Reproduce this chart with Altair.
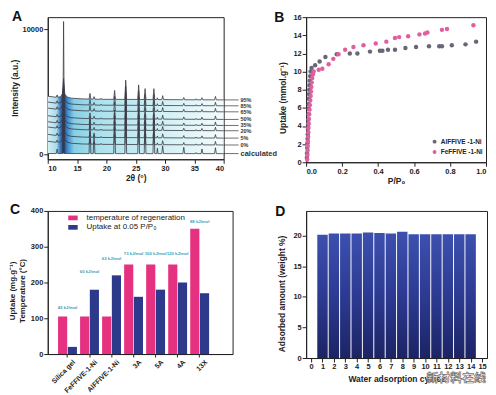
import altair as alt
import pandas as pd

FONT = "Liberation Sans"
INK = "#222222"

# ---------------- Panel A : PXRD patterns ----------------
exp_two_theta = [10.0, 11.0, 11.45, 11.6, 11.75, 12.2, 12.5, 12.7, 12.9, 13.3, 14.0, 16.0,
                 17.05, 17.2, 17.35, 17.75, 17.9, 18.05, 19.0, 19.1, 19.2,
                 21.25, 21.4, 21.55, 23.15, 23.3, 23.45, 25.35, 25.5, 25.65,
                 26.45, 26.6, 26.75, 27.95, 28.1, 28.25, 28.6, 28.7, 28.8,
                 29.45, 29.6, 29.75, 33.05, 33.2, 33.35, 35.2, 35.3, 35.4,
                 36.15, 36.3, 36.45, 38.45, 38.6, 38.75, 40.0]
exp_profile = [300, 240, 215, 400, 210, 260, 500, 1700, 480, 230, 140, 80,
               70, 520, 70, 60, 260, 60, 50, 130, 50,
               45, 760, 45, 40, 1580, 40, 35, 1200, 35,
               30, 900, 30, 25, 900, 25, 25, 170, 25,
               25, 340, 25, 15, 200, 15, 10, 90, 10,
               10, 180, 10, 5, 280, 5, 0]
humidity_labels = ["95%", "85%", "65%", "50%", "35%", "20%", "5%", "0%"]
pattern_offsets = [4340, 3870, 3390, 2780, 2300, 1880, 1290, 740]
calc_two_theta = [10.0, 11.45, 11.6, 11.75, 12.55, 12.7, 12.85,
                  17.05, 17.2, 17.35, 17.75, 17.9, 18.05,
                  21.25, 21.4, 21.55, 23.15, 23.3, 23.45,
                  25.35, 25.5, 25.65, 26.45, 26.6, 26.75,
                  27.95, 28.1, 28.25, 28.6, 28.7, 28.8,
                  29.45, 29.6, 29.75, 33.05, 33.2, 33.35,
                  35.2, 35.3, 35.4, 36.15, 36.3, 36.45,
                  38.45, 38.6, 38.75, 40.0]
calc_intensity = [60, 55, 420, 55, 60, 10600, 60,
                  50, 3000, 50, 50, 1700, 50,
                  50, 3300, 50, 50, 3900, 50,
                  50, 3500, 50, 50, 2600, 50,
                  50, 2900, 50, 50, 480, 50,
                  50, 680, 50, 50, 560, 50,
                  50, 140, 50, 50, 420, 50,
                  50, 520, 50, 50]
calc_level = 55

# ---------------- Panel B : isotherms ----------------
al_p = [0.004, 0.005, 0.006, 0.007, 0.008, 0.009, 0.010, 0.011, 0.012, 0.013, 0.014, 0.015,
        0.016, 0.017, 0.018, 0.019, 0.020, 0.022, 0.025, 0.030,
        0.05, 0.075, 0.107, 0.17, 0.243, 0.285, 0.355, 0.41, 0.424, 0.455, 0.494,
        0.552, 0.611, 0.683, 0.74, 0.755, 0.81, 0.886, 0.945]
al_u = [0.5, 1.0, 1.6, 2.1, 2.6, 3.1, 3.7, 4.2, 4.7, 5.3, 5.9, 6.4,
        7.0, 7.5, 8.0, 8.5, 9.0, 9.5, 10.0, 10.4,
        10.7, 11.1, 11.6, 11.9, 12.0, 12.0, 12.2, 12.3, 12.3, 12.4, 12.4,
        12.6, 12.7, 12.8, 12.8, 12.8, 12.9, 13.0, 13.3]
fe_p = [0.006, 0.007, 0.008, 0.009, 0.010, 0.011, 0.012, 0.013, 0.014, 0.015,
        0.017, 0.019, 0.021, 0.023, 0.025, 0.027, 0.029, 0.031, 0.034, 0.038,
        0.042, 0.07, 0.09, 0.125, 0.151, 0.18, 0.217, 0.263, 0.319, 0.387,
        0.446, 0.494, 0.517, 0.567, 0.63, 0.661, 0.674, 0.755, 0.783, 0.93]
fe_u = [0.3, 0.8, 1.3, 1.8, 2.3, 2.8, 3.3, 3.8, 4.3, 4.8,
        5.3, 5.8, 6.3, 6.8, 7.3, 7.8, 8.3, 8.8, 9.3, 9.7,
        10.0, 10.2, 10.3, 10.8, 11.4, 11.9, 12.4, 12.7, 12.9, 13.1,
        13.3, 13.7, 13.8, 13.9, 14.1, 14.2, 14.3, 14.6, 14.7, 15.1]
series_b = ["AlFFIVE -1-Ni", "FeFFIVE -1-Ni"]

# ---------------- Panel C : regeneration / uptake ----------------
materials = ["Silica gel", "FeFFIVE-1-Ni", "AlFFIVE-1-Ni", "3A", "5A", "4A", "13X"]
regen_temp = [105, 105, 105, 250, 250, 250, 350]
uptake_005 = [20, 180, 220, 160, 180, 200, 170]
heat_labels = ["45 kJ/mol", "60 kJ/mol", "63 kJ/mol", "73 kJ/mol", "100 kJ/mol", "120 kJ/mol", "88 kJ/mol"]
heat_label_y = [124, 223, 259, 274, 274, 274, 364]
series_c = ["temperature of regeneration", "Uptake at 0.05 P/P\u2080"]

# ---------------- Panel D : cycling ----------------
cycles = list(range(1, 15))
adsorbed = [20.1, 20.3, 20.3, 20.3, 20.5, 20.4, 20.3, 20.6, 20.2, 20.2, 20.2, 20.2, 20.2, 20.2]

# ======================= build panel A =======================
rows_line, rows_area = [], []
for i, (name, off) in enumerate(zip(humidity_labels, pattern_offsets)):
    lo = pattern_offsets[i + 1] if i + 1 < len(pattern_offsets) else calc_level
    for t, d in zip(exp_two_theta, exp_profile):
        rows_line.append({"tt": t, "I": off + d, "s": name})
        rows_area.append({"tt": t, "I": off + d, "lo": lo, "s": name})
for t, v in zip(calc_two_theta, calc_intensity):
    rows_line.append({"tt": t, "I": v, "s": "calculated"})
dfA_line = pd.DataFrame(rows_line)
dfA_area = pd.DataFrame(rows_area)
dfA_lab = pd.DataFrame({"name": humidity_labels + ["calculated"],
                        "I": pattern_offsets + [calc_level],
                        "fs": [5.5] * len(humidity_labels) + [7.5]})

WA, HA = 177, 143
grad_a = alt.Gradient(gradient="linear", x1=0, x2=1, y1=0, y2=0, stops=[
    alt.GradientStop(offset=0.0, color="#d6eff5"),
    alt.GradientStop(offset=0.05, color="#a9dbea"),
    alt.GradientStop(offset=0.07, color="#3f7fc0"),
    alt.GradientStop(offset=0.09, color="#19398a"),
    alt.GradientStop(offset=0.11, color="#3a86cc"),
    alt.GradientStop(offset=0.15, color="#86cfe4"),
    alt.GradientStop(offset=0.3, color="#ace2ed"),
    alt.GradientStop(offset=0.6, color="#cdeef4"),
    alt.GradientStop(offset=1.0, color="#f4fbfc"),
])
xA = alt.Scale(domain=[10, 40], nice=False, zero=False)
yA = alt.Scale(domain=[-400, 10950], nice=False, zero=False)
axA_x = alt.Axis(values=[10, 15, 20, 25, 30, 35, 40], format="d", title="2\u03b8 (\u00b0)", titlePadding=2)
axA_y = alt.Axis(values=[0, 10000], format="d", title="Intensity (a.u.)", titleX=-28, titleY=71)
areaA = alt.Chart(dfA_area).mark_area(clip=True, color=grad_a).encode(
    x=alt.X("tt:Q", scale=xA, axis=axA_x),
    y=alt.Y("I:Q", scale=yA, axis=axA_y),
    y2="lo:Q",
    detail="s:N",
)
lineA = alt.Chart(dfA_line).mark_line(clip=True, color="#3b3b46", strokeWidth=0.8).encode(
    x=alt.X("tt:Q", axis=axA_x), y=alt.Y("I:Q", axis=axA_y), detail="s:N")
ruleA = alt.Chart(dfA_lab).mark_rule(color="#333333", strokeWidth=0.7).encode(
    x=alt.value(WA), x2=alt.value(WA + 15), y=alt.Y("I:Q", axis=axA_y))
textA = alt.Chart(dfA_lab).mark_text(align="left", baseline="middle", color="#333333",
                                     fontWeight="bold").encode(
    x=alt.value(WA + 17), y=alt.Y("I:Q", axis=axA_y), text="name:N",
    size=alt.Size("fs:Q", scale=None, legend=None))
letterA = alt.Chart(pd.DataFrame({"t": ["A"]})).mark_text(
    align="left", baseline="alphabetic", fontSize=14, fontWeight="bold", color="#111111").encode(
    x=alt.value(-36), y=alt.value(4), text="t:N")
panelA = alt.layer(areaA, lineA, ruleA, textA, letterA).properties(width=WA, height=HA)

# ======================= build panel B =======================
dfB = pd.DataFrame({"p": al_p + fe_p, "u": al_u + fe_u,
                    "s": [series_b[0]] * len(al_p) + [series_b[1]] * len(fe_p)})
pointsB = alt.Chart(dfB).mark_circle(size=20, opacity=1).encode(
    x=alt.X("p:Q", scale=alt.Scale(domain=[0, 1], nice=False),
            axis=alt.Axis(values=[0, 0.2, 0.4, 0.6, 0.8, 1.0], format=".1f",
                          title="P/P\u2080", titlePadding=2)),
    y=alt.Y("u:Q", scale=alt.Scale(domain=[0, 16], nice=False),
            axis=alt.Axis(values=list(range(0, 17, 2)), title="Uptake (mmol.g\u207b\u00b9)",
                          titleX=-19, titleY=81)),
    color=alt.Color("s:N", scale=alt.Scale(domain=series_b, range=["#6b6677", "#e0609f"]),
                    legend=alt.Legend(title=None, orient="none", legendX=126, legendY=122,
                                      labelFontSize=6.5, labelFontWeight="bold", symbolSize=16,
                                      symbolType="circle", rowPadding=3.5, labelOffset=3,
                                      padding=0, labelColor=INK)),
)
letterB = alt.Chart(pd.DataFrame({"t": ["B"]})).mark_text(
    align="left", baseline="alphabetic", fontSize=14, fontWeight="bold", color="#111111").encode(
    x=alt.value(-32), y=alt.value(5), text="t:N")
panelB = alt.layer(pointsB, letterB).properties(width=181, height=146)

# ======================= build panel C =======================
dfC = pd.DataFrame({"m": materials * 2,
                    "s": [series_c[0]] * len(materials) + [series_c[1]] * len(materials),
                    "v": regen_temp + uptake_005})
dfC_lab = pd.DataFrame({"m": materials, "v": heat_label_y, "lab": heat_labels})
axC_x = alt.Axis(title=None, labelAngle=-45, labelFontSize=7, tickSize=3, labelOffset=4)
axC_y = alt.Axis(values=[0, 100, 200, 300, 400], format="d",
                 title=["Uptake (mg.g\u207b\u00b9)", "Temperature (\u00b0C)"],
                 titleX=-31, titleY=80, titleFontSize=8)
scC_x = alt.Scale(paddingInner=0.143, paddingOuter=0.767, align=0.305)
scC_y = alt.Scale(domain=[0, 400], nice=False)
barsC = alt.Chart(dfC).mark_bar().encode(
    x=alt.X("m:N", sort=materials, scale=scC_x, axis=axC_x),
    xOffset=alt.XOffset("s:N", sort=series_c, scale=alt.Scale(paddingInner=0.06)),
    y=alt.Y("v:Q", stack=None, scale=scC_y, axis=axC_y),
    color=alt.Color("s:N", sort=series_c,
                    scale=alt.Scale(domain=series_c, range=["#e5317f", "#2d3a8c"]),
                    legend=alt.Legend(title=None, orient="none", legendX=18, legendY=2,
                                      symbolType="M-0.5,-0.5H1.5V0.5H-0.5Z", symbolSize=90,
                                      symbolStrokeWidth=0, labelFontSize=8, labelFontWeight="normal",
                                      labelOffset=11, rowPadding=0.5, padding=0, labelColor=INK)),
)
textC = alt.Chart(dfC_lab).mark_text(fontSize=4.3, fontWeight="bold", color="#3aa0b8",
                                     baseline="bottom").encode(
    x=alt.X("m:N", sort=materials, scale=scC_x, axis=axC_x),
    y=alt.Y("v:Q", scale=scC_y, axis=axC_y),
    text="lab:N")
letterC = alt.Chart(pd.DataFrame({"t": ["C"]})).mark_text(
    align="left", baseline="alphabetic", fontSize=14, fontWeight="bold", color="#111111").encode(
    x=alt.value(-38), y=alt.value(3), text="t:N")
panelC = alt.layer(barsC, textC, letterC).properties(width=186, height=144)

# ======================= build panel D =======================
dfD = pd.DataFrame({"c": cycles, "a": adsorbed})
grad_d = alt.Gradient(gradient="linear", x1=0, x2=0, y1=0, y2=1, stops=[
    alt.GradientStop(offset=0.0, color="#3d50ae"),
    alt.GradientStop(offset=0.5, color="#2c3a92"),
    alt.GradientStop(offset=1.0, color="#1c2464"),
])
barsD = alt.Chart(dfD).mark_bar(size=10.5, color=grad_d).encode(
    x=alt.X("c:Q", scale=alt.Scale(domain=[0, 15], nice=False),
            axis=alt.Axis(values=list(range(0, 16)), format="d",
                          title="Water adsorption cycles", titlePadding=4)),
    y=alt.Y("a:Q", scale=alt.Scale(domain=[0, 24], nice=False),
            axis=alt.Axis(values=[0, 5, 10, 15, 20], title="Adsorbed amount (weight %)",
                          titleX=-20, titleY=83)),
)
letterD = alt.Chart(pd.DataFrame({"t": ["D"]})).mark_text(
    align="left", baseline="alphabetic", fontSize=14, fontWeight="bold", color="#111111").encode(
    x=alt.value(-31), y=alt.value(5), text="t:N")
markD = alt.Chart(pd.DataFrame({"t": ["新材料在线"]})).mark_text(
    font="Noto Sans CJK SC", fontSize=12, fontWeight="bold", fill="#ffffff", stroke="#6e6e6e",
    strokeWidth=0.7, align="center", baseline="middle").encode(
    x=alt.value(151), y=alt.value(168), text="t:N")
panelD = alt.layer(barsD, letterD, markD).properties(width=182, height=148)

# ======================= layout =======================
chart = alt.concat(panelA, panelB, panelC, panelD, columns=2, bounds="flush",
                   spacing={"row": 49, "column": 74}).resolve_scale(
    color="independent", size="independent").resolve_legend(color="independent").properties(
    padding=0, background="white"
).configure(font=FONT).configure_axis(
    labelFont=FONT, titleFont=FONT, labelFontSize=7.5, labelFontWeight="bold",
    titleFontSize=8.5, titleFontWeight="bold", tickSize=4, labelPadding=1, titlePadding=2,
    domainColor=INK, tickColor=INK, labelColor=INK, titleColor=INK, grid=False,
).configure_view(stroke=INK, strokeWidth=1).configure_legend(labelFont=FONT)

chart.save("out.html", embed_options={"renderer": "svg", "actions": False})
